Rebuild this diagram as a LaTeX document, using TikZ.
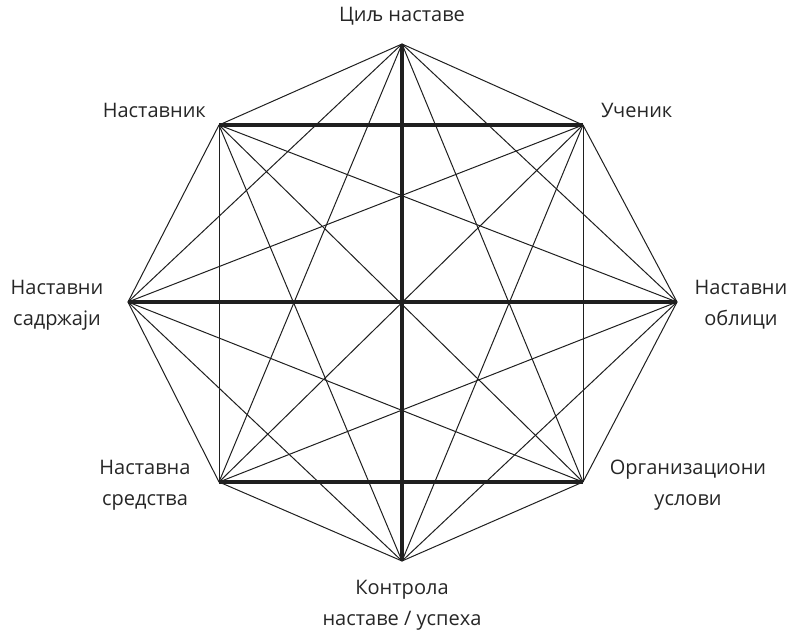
\documentclass[tikz,border=0pt]{standalone}
\usepackage{fontspec}
\setmainfont{Open Sans}
\begin{document}
\begin{tikzpicture}[x=1pt,y=-1pt,
  thin line/.style={line width=1pt,draw=black!88},
  thick line/.style={line width=3.5pt,draw=black!88},
  lbl/.style={font=\fontsize{20}{31}\selectfont,text=black!85,align=center,inner sep=0pt}]
\useasboundingbox (0,0) rectangle (791,631);
\coordinate (T) at (402,44);
\coordinate (TL) at (219,125);
\coordinate (TR) at (583,125);
\coordinate (L) at (128,302);
\coordinate (R) at (677,302);
\coordinate (BL) at (219,482);
\coordinate (BR) at (583,482);
\coordinate (B) at (402,561);
% all connections (K8)
\foreach \a/\b in {T/TL,T/TR,T/L,T/R,T/BL,T/BR,
  TL/TR,TL/L,TL/R,TL/BL,TL/BR,TL/B,
  TR/L,TR/R,TR/BL,TR/BR,TR/B,
  L/BL,L/BR,L/B,R/BL,R/BR,R/B,BL/B,BR/B}
  \draw[thin line] (\a) -- (\b);
\draw[thick line] (T) -- (B);
\draw[thick line] (L) -- (R);
\draw[thick line] (TL) -- (TR);
\draw[thick line] (BL) -- (BR);
\node[lbl] (nT) at (402,16) {Циљ наставе};
\node[lbl,anchor=east] (nTL) at (206,110) {Наставник};
\node[lbl,anchor=west] (nTR) at (601,110) {Ученик};
\node[lbl] (nL) at (57,305) {Наставни\\садржаји};
\node[lbl] (nR) at (741,305) {Наставни\\облици};
\node[lbl] (nBL) at (145,485) {Наставна\\средства};
\node[lbl] (nBR) at (688,485) {Организациони\\услови};
\node[lbl] (nB) at (402,605) {Контрола\\наставе / успеха};
\end{tikzpicture}
\end{document}
